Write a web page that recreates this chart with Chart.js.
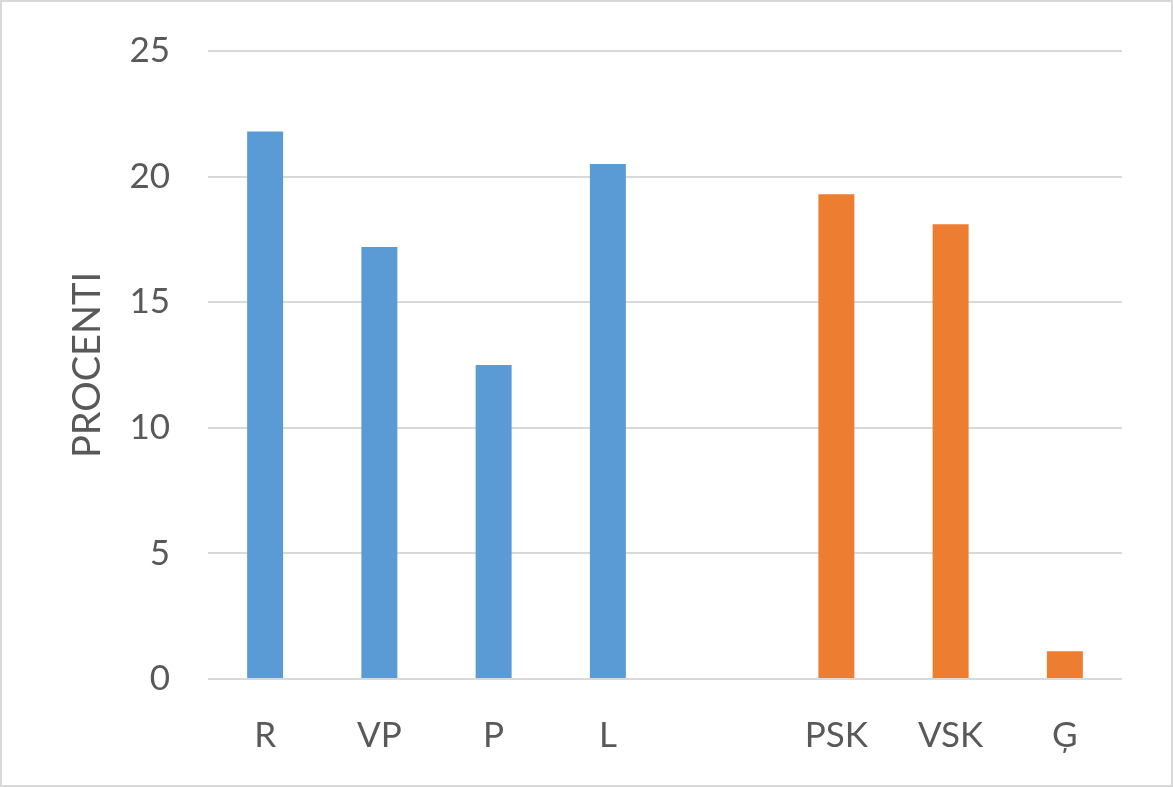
<!DOCTYPE html>
<html>
<head>
<meta charset="utf-8">
<script src="https://cdn.jsdelivr.net/npm/chart.js"></script>
<style>
    body { margin: 0; background: #fff; }
    #wrap { width: 1173px; height: 787px; box-sizing: border-box; border: 2px solid #d9d9d9; }
    canvas { display: block; }
</style>
</head>
<body>
<div id="wrap"><canvas id="chart" width="1169" height="783"></canvas></div>
<script>
// values
const categories = ["R", "VP", "P", "L", "", "PSK", "VSK", "Ģ"];
const values = [21.8, 17.2, 12.5, 20.5, null, 19.3, 18.1, 1.1];
const groups = ["a", "a", "a", "a", null, "b", "b", "b"];
const yTicks = [0, 5, 10, 15, 20, 25];

const groupColors = { a: "#5B9BD5", b: "#ED7D31" };
const textColor = "#595959";
const fontFamily = "Lato, 'Open Sans', sans-serif";

new Chart(document.getElementById("chart").getContext("2d"), {
    type: "bar",
    data: {
        labels: categories,
        datasets: [{
            data: values,
            backgroundColor: groups.map(g => groupColors[g] || "#fff"),
            borderWidth: 0,
            categoryPercentage: 1,
            barPercentage: 0.315
        }]
    },
    options: {
        responsive: false,
        animation: false,
        layout: { padding: { top: 49, right: 49, left: 0, bottom: 0 } },
        plugins: { legend: { display: false }, tooltip: { enabled: false } },
        scales: {
            x: {
                grid: { display: false },
                border: { display: false },
                ticks: { color: textColor, font: { family: fontFamily, size: 35 }, padding: 28 },
                afterFit: s => { s.height = 106; }
            },
            y: {
                min: 0,
                max: 25,
                afterBuildTicks: s => { s.ticks = yTicks.map(v => ({ value: v })); },
                grid: { color: "#d9d9d9", lineWidth: 2, drawTicks: false },
                border: { display: false },
                ticks: { color: textColor, font: { family: fontFamily, size: 35 }, padding: 38 },
                title: {
                    display: true,
                    text: "PROCENTI",
                    color: textColor,
                    font: { family: fontFamily, size: 38 },
                    padding: { top: 63, bottom: 0 }
                },
                afterFit: s => {
                    s.width = 206;
                    s.paddingTop = 0;
                    s.paddingBottom = 0;
                }
            }
        }
    }
});
</script>
</body>
</html>
